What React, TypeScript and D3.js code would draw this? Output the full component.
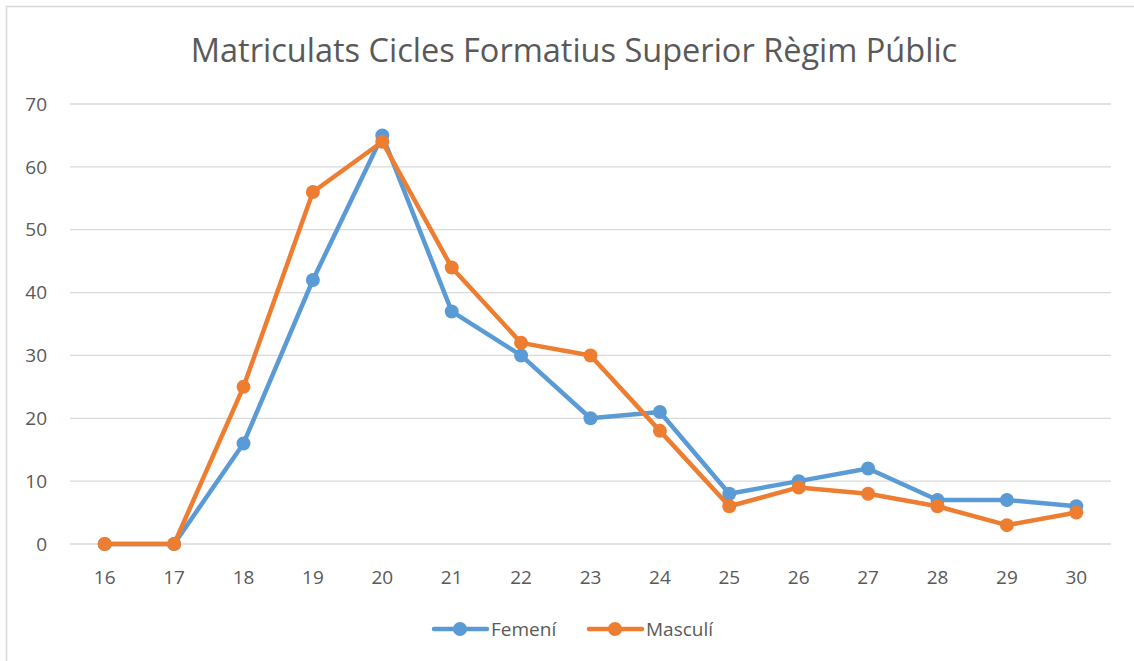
import * as d3 from 'd3';
import { useRef, useEffect } from 'react';

const ages = ['16', '17', '18', '19', '20', '21', '22', '23', '24', '25', '26', '27', '28', '29', '30'];
const femeni = [0, 0, 16, 42, 65, 37, 30, 20, 21, 8, 10, 12, 7, 7, 6];
const masculi = [0, 0, 25, 56, 64, 44, 32, 30, 18, 6, 9, 8, 6, 3, 5];
const yTicks = [0, 10, 20, 30, 40, 50, 60, 70];

const series = [
  { name: 'Femení', values: femeni, color: '#5B9BD5' },
  { name: 'Masculí', values: masculi, color: '#ED7D31' },
];

const W = 1134;
const H = 661;
const FONT = "'Open Sans', 'Liberation Sans', sans-serif";

export default function App() {
  const svgRef = useRef<SVGSVGElement>(null);

  useEffect(() => {
    const svg = d3.select(svgRef.current);
    svg.selectAll('*').remove();

    svg.append('rect')
      .attr('x', 6.5).attr('y', 6.5)
      .attr('width', W + 10).attr('height', H + 10)
      .attr('fill', '#fff').attr('stroke', '#D9D9D9').attr('stroke-width', 1.5);

    const x = d3.scaleBand().domain(ages).range([70, 1111]);
    const y = d3.scaleLinear().domain([0, 70]).range([544, 104]);
    const cx = (a: string) => (x(a) as number) + x.bandwidth() / 2;

    svg.append('text')
      .attr('x', 574).attr('y', 62)
      .attr('text-anchor', 'middle')
      .style('font-family', FONT).style('font-size', '32.5px')
      .attr('fill', '#595959')
      .text('Matriculats Cicles Formatius Superior Règim Públic');

    // gridlines
    svg.selectAll('.grid')
      .data(yTicks)
      .join('line')
      .attr('x1', 70).attr('x2', 1111)
      .attr('y1', d => y(d)).attr('y2', d => y(d))
      .attr('stroke', '#D9D9D9').attr('stroke-width', 1.3);

    svg.selectAll('.ylab')
      .data(yTicks)
      .join('text')
      .attr('x', 47).attr('y', d => y(d))
      .attr('dy', '0.35em')
      .attr('text-anchor', 'end')
      .style('font-family', FONT).style('font-size', '19px')
      .attr('fill', '#595959')
      .text(d => d);

    svg.selectAll('.xlab')
      .data(ages)
      .join('text')
      .attr('x', d => cx(d)).attr('y', 577)
      .attr('dy', '0.35em')
      .attr('text-anchor', 'middle')
      .style('font-family', FONT).style('font-size', '19px')
      .attr('fill', '#595959')
      .text(d => d);

    const line = d3.line<number>()
      .x((_, i) => cx(ages[i]))
      .y(d => y(d));

    series.forEach(s => {
      const g = svg.append('g');
      g.append('path')
        .attr('d', line(s.values))
        .attr('fill', 'none')
        .attr('stroke', s.color)
        .attr('stroke-width', 4.5)
        .attr('stroke-linejoin', 'round')
        .attr('stroke-linecap', 'round');
      g.selectAll('circle')
        .data(s.values)
        .join('circle')
        .attr('cx', (_, i) => cx(ages[i]))
        .attr('cy', d => y(d))
        .attr('r', 7)
        .attr('fill', s.color);
    });

    // legend
    const legendX = [432, 587];
    series.forEach((s, i) => {
      const lx = legendX[i];
      const ly = 629;
      svg.append('line')
        .attr('x1', lx + 2).attr('x2', lx + 55)
        .attr('y1', ly).attr('y2', ly)
        .attr('stroke', s.color).attr('stroke-width', 4.5)
        .attr('stroke-linecap', 'round');
      svg.append('circle')
        .attr('cx', lx + 28).attr('cy', ly).attr('r', 7)
        .attr('fill', s.color);
      svg.append('text')
        .attr('x', lx + 59).attr('y', ly)
        .attr('dy', '0.35em')
        .style('font-family', FONT).style('font-size', '19px')
        .attr('fill', '#595959')
        .text(s.name);
    });
  }, []);

  return (
    <svg ref={svgRef} width={W} height={H}
      style={{ position: 'absolute', left: 0, top: 0, display: 'block' }} />
  );
}
